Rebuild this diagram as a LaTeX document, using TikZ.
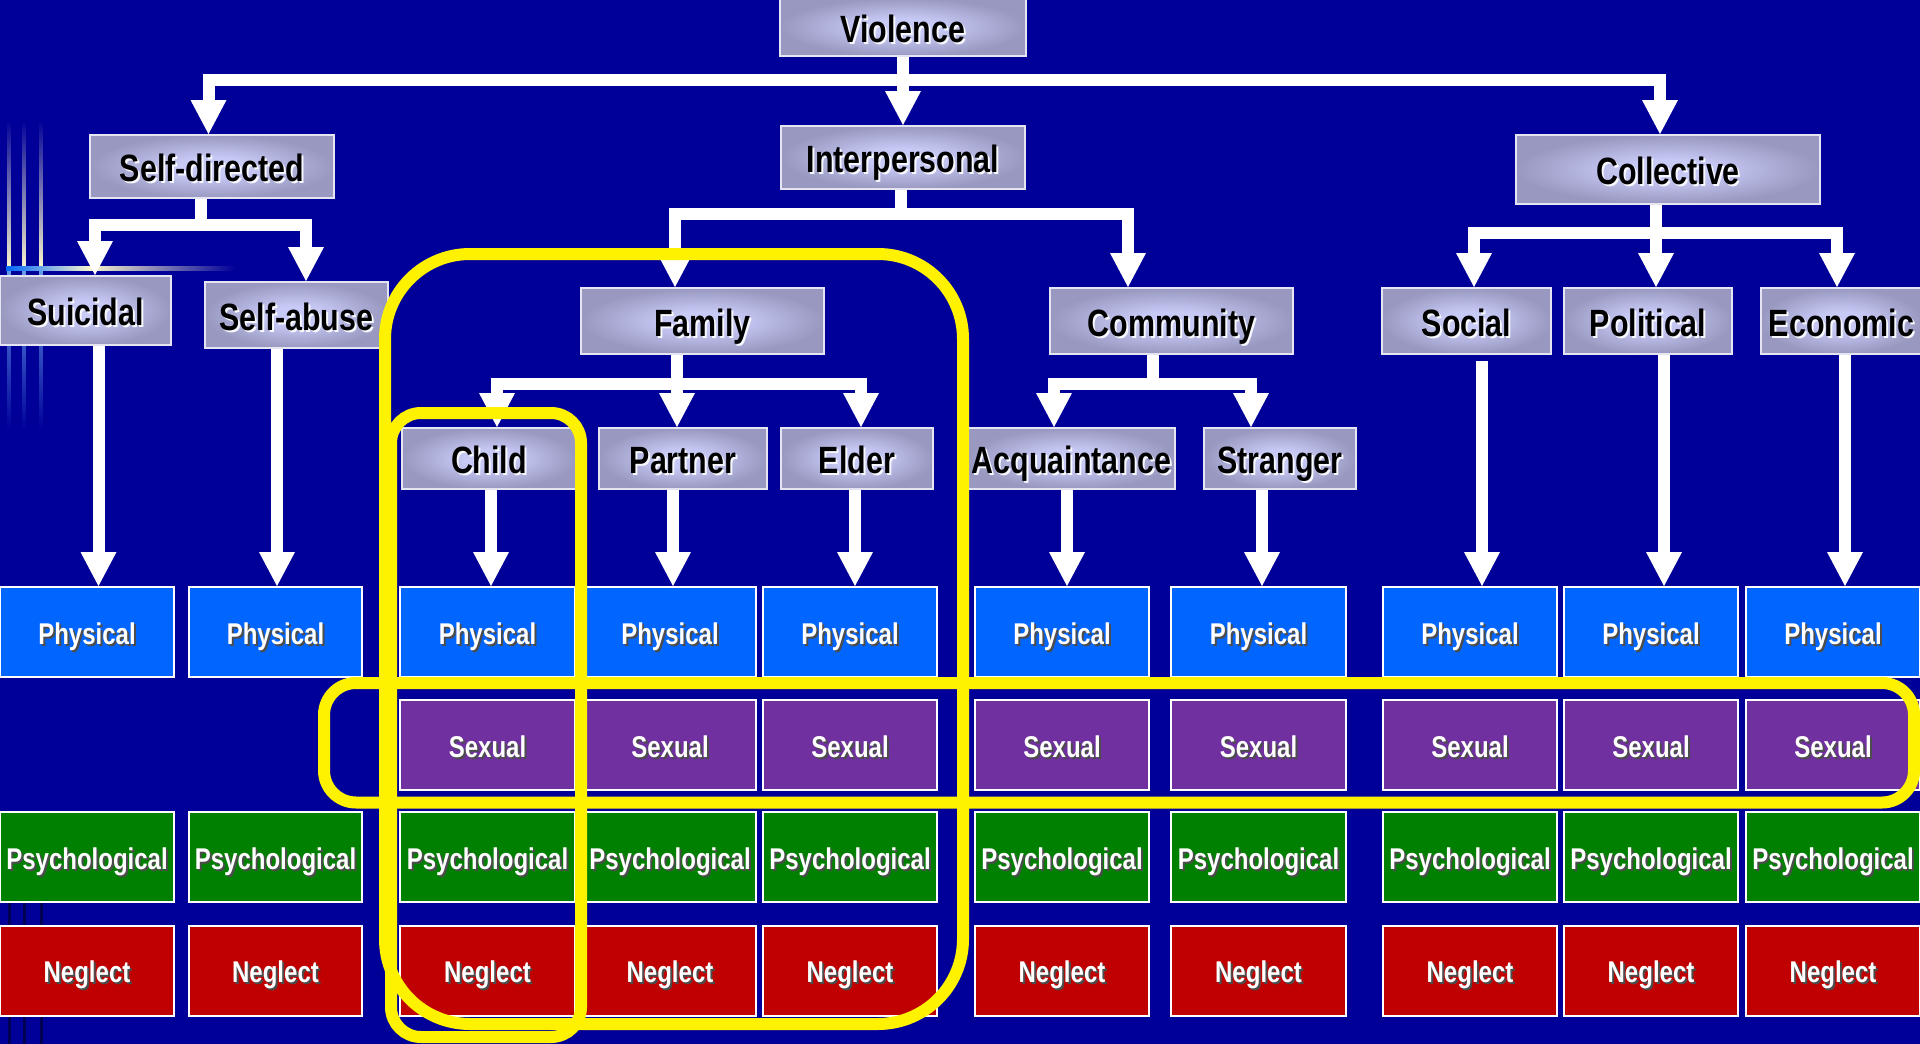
\documentclass[tikz,border=0pt]{standalone}
\usepackage{fontspec}
\usetikzlibrary{arrows.meta}
\newfontfamily\boxfont{Liberation Sans}[FakeStretch=0.8]

\definecolor{slide}{RGB}{0,0,153}
\definecolor{glowin}{RGB}{200,202,246}
\definecolor{glowout}{RGB}{152,152,192}
\definecolor{boxedge}{RGB}{228,228,242}
\definecolor{physical}{RGB}{0,102,255}
\definecolor{sexual}{RGB}{112,48,160}
\definecolor{psych}{RGB}{0,128,0}
\definecolor{neglect}{RGB}{192,0,0}
\definecolor{stripe}{RGB}{0,102,255}
\definecolor{cream}{RGB}{250,246,205}
\colorlet{ring}{yellow}
\pgfdeclareradialshading{boxglow}{\pgfpoint{0bp}{0bp}}{color(0bp)=(glowin); color(7bp)=(glowin); color(25bp)=(glowout); color(50bp)=(glowout)}
% text with a soft shadow, caps centred on the box
\newcommand\glow[2]{\raisebox{-0.4em}[0pt][0pt]{\makebox[0pt][l]{\hspace{2pt}\raisebox{-2pt}{\textcolor{#1}{#2}}}#2}}

\tikzset{
  category/.style={draw=boxedge, line width=2pt, shading=boxglow, inner sep=0pt, text=black,
    font=\boxfont\bfseries\fontsize{38}{40}\selectfont},
  kind/.style={draw=white, line width=2pt, inner sep=0pt, minimum height=90pt, text=white,
    font=\boxfont\bfseries\fontsize{30}{32}\selectfont}
  }
\tikzstyle{link} = [draw=white, line width=12pt, line join=miter, -{Triangle[width=36pt,length=34pt,line width=0pt]}]
\tikzstyle{highlight} = [draw=ring, line width=12pt]

\begin{document}
\begin{tikzpicture}[x=1pt, y=-1pt]
    \useasboundingbox (0,0) rectangle (1920,1044);
    \fill[slide] (0,0) rectangle (1920,1044);

    % The stripes at the left edge
    \foreach \x in {9,24,41} {
      \shade[top color=slide, middle color=stripe, bottom color=cream] (\x-1.75,120) rectangle (\x+1.75,268);
      \shade[top color=stripe!60!cream, middle color=stripe, bottom color=slide] (\x-1.75,268) rectangle (\x+1.75,430);
      \draw[slide!55!black, line width=3pt] (\x,860) -- (\x,1044);
    }
    \shade[left color=stripe, right color=cream] (6,266) rectangle (90,270);
    \shade[left color=cream, middle color=stripe, right color=slide] (90,266) rectangle (235,270);

    % The categories
    \foreach \pos/\w/\h/\name/\txt in {{(903,27)/246/58/violence/Violence},
        {(212,166.5)/244/63/selfdir/Self-directed}, {(903,157.5)/244/63/interp/Interpersonal},
        {(1668,169.5)/304/69/collective/Collective}, {(85.5,310.5)/171/69/suicidal/Suicidal},
        {(296.5,315)/183/66/selfabuse/Self-abuse}, {(702.5,321)/243/66/family/Family},
        {(1171.5,321)/243/66/community/Community}, {(1466.5,321)/169/66/social/Social},
        {(1648,321)/168/66/political/Political}, {(1841.5,321)/161/66/economic/Economic},
        {(489,458.5)/174/61/child/Child}, {(683,458.5)/168/61/partner/Partner},
        {(857,458.5)/152/61/elder/Elder}, {(1071.5,458.5)/207/61/acquaint/Acquaintance},
        {(1280,458.5)/152/61/stranger/Stranger}}
      \node[category, minimum width=\w pt, minimum height=\h pt] (\name) at \pos {\glow{white!85!glowin}{\txt}};

    % The kinds of violence, one column each
    \foreach \x/\w [count=\i] in {87/174, 275.5/173, 487.5/175, 670/171, 850/174,
        1062/174, 1258.5/175, 1470/174, 1651/174, 1833/174} {
      \node[kind, fill=physical, minimum width=\w pt] (phys\i) at (\x,632) {\glow{black!70}{Physical}};
      \ifnum\i>2
        \node[kind, fill=sexual, minimum width=\w pt] (sex\i) at (\x,745) {\glow{black!70}{Sexual}};
      \fi
      \node[kind, fill=psych, minimum width=\w pt] (psych\i) at (\x,857) {\glow{black!70}{Psychological}};
      \node[kind, fill=neglect, minimum width=\w pt] (neglect\i) at (\x,970.5) {\glow{black!70}{Neglect}};
    }

    % The branches of the tree
    \draw[link] (violence.south) -- ++(0,23) -| ([xshift=-3.5pt]selfdir.north);
    \draw[link] (violence.south) -- ++(0,23) -| ([xshift=-8pt]collective.north);
    \draw[link] (violence.south) -- (interp.north);

    \draw[link] ([xshift=-11pt]selfdir.south) -- ++(0,26) -| ([xshift=9.5pt]suicidal.north);
    \draw[link] ([xshift=-11pt]selfdir.south) -- ++(0,26) -| ([xshift=9.5pt]selfabuse.north);

    \draw[link] ([xshift=-2pt]interp.south) -- ++(0,24) -| ([xshift=-27.5pt]family.north);
    \draw[link] ([xshift=-2pt]interp.south) -- ++(0,24) -| ([xshift=-43.5pt]community.north);

    \draw[link] ([xshift=-25.5pt]family.south) -- ++(0,28.5) -| ([xshift=8pt]child.north);
    \draw[link] ([xshift=-25.5pt]family.south) -- ([xshift=-6pt]partner.north);
    \draw[link] ([xshift=-25.5pt]family.south) -- ++(0,28.5) -| ([xshift=4pt]elder.north);

    \draw[link] ([xshift=-18.5pt]community.south) -- ++(0,28.5) -| ([xshift=-17.5pt]acquaint.north);
    \draw[link] ([xshift=-18.5pt]community.south) -- ++(0,28.5) -| ([xshift=-29pt]stranger.north);

    \draw[link] ([xshift=-12pt]collective.south) -- ++(0,27.5) -| ([xshift=7.5pt]social.north);
    \draw[link] ([xshift=-12pt]collective.south) -- ([xshift=8pt]political.north);
    \draw[link] ([xshift=-12pt]collective.south) -- ++(0,27.5) -| ([xshift=-4.5pt]economic.north);

    % Down to the physical row
    \foreach \from/\dx/\dy/\col in {suicidal/13/0/1, selfabuse/-19.5/0/2, child/2/0/3,
        partner/-10/0/4, elder/-2/0/5, acquaint/-4.5/0/6, stranger/-18/0/7,
        social/15.5/-6/8, political/16/0/9, economic/3.5/0/10} {
      \path ([xshift=\dx pt, yshift=\dy pt]\from.south) coordinate (start);
      \draw[link] (start) -- (start |- phys\col.north);
    }

    % The yellow rings
    \draw[highlight, rounded corners=85pt] (385,254) rectangle (963,1024);
    \draw[highlight, rounded corners=30pt] (391,413) rectangle (581,1037);
    \draw[highlight, rounded corners=32pt] (324,683) rectangle (1914,802.5);
\end{tikzpicture}
\end{document}
